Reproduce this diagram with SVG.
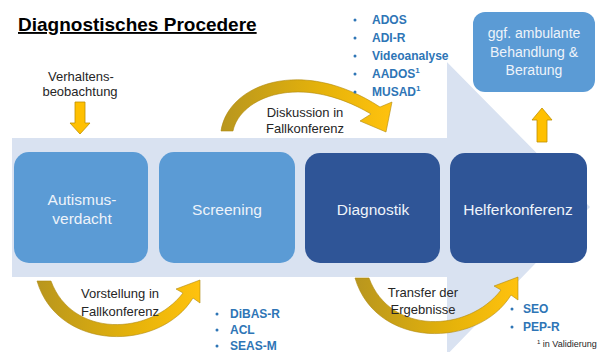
<svg xmlns="http://www.w3.org/2000/svg" width="599" height="352" viewBox="0 0 599 352">
<style>
text{font-family:"Liberation Sans",Arial,sans-serif}
.lbl{font-size:13px;fill:#262626;text-anchor:middle}
.box1{fill:#5b9bd5}
.box2{fill:#2f5597}
.bt{font-size:15.5px;fill:#eef3fa;text-anchor:middle}
.lst{font-size:12px;font-weight:bold;fill:#2e75b6}
.bul{fill:#2e75b6}
.gold{fill:url(#gg);stroke:#b08a10;stroke-width:0.6}
.yarr{fill:#ffc000;stroke:#bf9000;stroke-width:0.8}
</style>
<defs>
<linearGradient id="gg" x1="0" y1="0" x2="1" y2="0">
<stop offset="0" stop-color="#b8961e"/>
<stop offset="0.6" stop-color="#e6b30a"/>
<stop offset="1" stop-color="#ffc20e"/>
</linearGradient>
</defs>
<rect width="599" height="352" fill="#ffffff"/>

<g id="background-arrow">
<polygon points="12,138 440,138 440,55 590,207 440,362 440,277 12,277" fill="#d9e2f1"/>
<rect x="345" y="0" width="102" height="138" fill="#ffffff"/>
<rect x="307" y="277" width="140" height="75" fill="#ffffff"/>
</g>

<g id="title">
<text x="18" y="31" font-size="19" font-weight="bold" fill="#000" text-decoration="underline">Diagnostisches Procedere</text>
</g>

<g id="connectors">
<polygon class="yarr" points="75,102 85,102 85,123 90,123 80,134 70,123 75,123"/>
<polygon class="yarr" points="537,142 547,142 547,120 552,120 542,108 532,120 537,120"/>
<path class="gold" d="M221 131 C228 84 302 56 380 107 L392 102 L386 132 L360 121 L371 114 C300 72 240 97 233 131 Z"/>
<path class="gold" d="M37 281 C58 352 160 352 193 298 L200 303 L200 280 L176 289 L183 293 C150 336 72 338 51 281 Z"/>
<path class="gold" d="M37 281 C58 352 160 352 193 298 L200 303 L200 280 L176 289 L183 293 C150 336 72 338 51 281 Z" transform="translate(318,-3)"/>
</g>

<g id="verhaltens">
<text class="lbl" x="81" y="81">Verhaltens-</text>
<text class="lbl" x="80" y="96">beobachtung</text>
</g>

<g id="autismusverdacht">
<rect class="box1" x="14" y="152" width="134" height="111" rx="15"/>
<text class="bt" x="82" y="205">Autismus-</text>
<text class="bt" x="82" y="224">verdacht</text>
</g>
<g id="screening">
<rect class="box1" x="159" y="152" width="136" height="111" rx="15"/>
<text class="bt" x="227" y="215">Screening</text>
</g>
<g id="diagnostik">
<rect class="box2" x="305" y="153" width="135" height="110" rx="15"/>
<text class="bt" x="373" y="215">Diagnostik</text>
</g>
<g id="helferkonferenz">
<rect class="box2" x="450" y="153" width="137" height="110" rx="15"/>
<text class="bt" x="518" y="215">Helferkonferenz</text>
</g>
<g id="behandlung">
<rect class="box1" x="473" y="12" width="122" height="80" rx="12"/>
<text x="534" y="38" font-size="14" fill="#eef3fa" text-anchor="middle">ggf. ambulante</text>
<text x="534" y="57" font-size="14" fill="#eef3fa" text-anchor="middle">Behandlung &amp;</text>
<text x="534" y="75" font-size="14" fill="#eef3fa" text-anchor="middle">Beratung</text>
</g>

<g id="diskussion">
<text class="lbl" x="305" y="117">Diskussion in</text>
<text class="lbl" x="305" y="133">Fallkonferenz</text>
</g>
<g id="vorstellung">
<text class="lbl" x="120" y="298">Vorstellung in</text>
<text class="lbl" x="120" y="316">Fallkonferenz</text>
</g>
<g id="transfer">
<text class="lbl" x="423" y="297" font-size="13.5">Transfer der</text>
<text class="lbl" x="423" y="314" font-size="13.5">Ergebnisse</text>
</g>

<g id="diagnostik-list">
<circle class="bul" cx="355" cy="20" r="1.5"/>
<text class="lst" x="372" y="24">ADOS</text>
<circle class="bul" cx="355" cy="38" r="1.5"/>
<text class="lst" x="372" y="42">ADI-R</text>
<circle class="bul" cx="355" cy="56" r="1.5"/>
<text class="lst" x="372" y="60">Videoanalyse</text>
<circle class="bul" cx="355" cy="74" r="1.5"/>
<text class="lst" x="372" y="78">AADOS<tspan font-size="8" dy="-5">1</tspan></text>
<circle class="bul" cx="355" cy="92" r="1.5"/>
<text class="lst" x="372" y="96">MUSAD<tspan font-size="8" dy="-5">1</tspan></text>
</g>
<g id="screening-list">
<circle class="bul" cx="217" cy="314" r="1.5"/>
<text class="lst" x="230" y="318">DiBAS-R</text>
<circle class="bul" cx="217" cy="330" r="1.5"/>
<text class="lst" x="230" y="334">ACL</text>
<circle class="bul" cx="217" cy="346" r="1.5"/>
<text class="lst" x="230" y="350">SEAS-M</text>
</g>
<g id="helfer-list">
<circle class="bul" cx="512" cy="309" r="1.5"/>
<text class="lst" x="523" y="313">SEO</text>
<circle class="bul" cx="512" cy="327" r="1.5"/>
<text class="lst" x="523" y="331">PEP-R</text>
</g>
<g id="footnote">
<text x="537" y="347" font-size="9" fill="#262626"><tspan font-size="6" dy="-3">1</tspan><tspan dy="3"> in Validierung</tspan></text>
</g>
</svg>
